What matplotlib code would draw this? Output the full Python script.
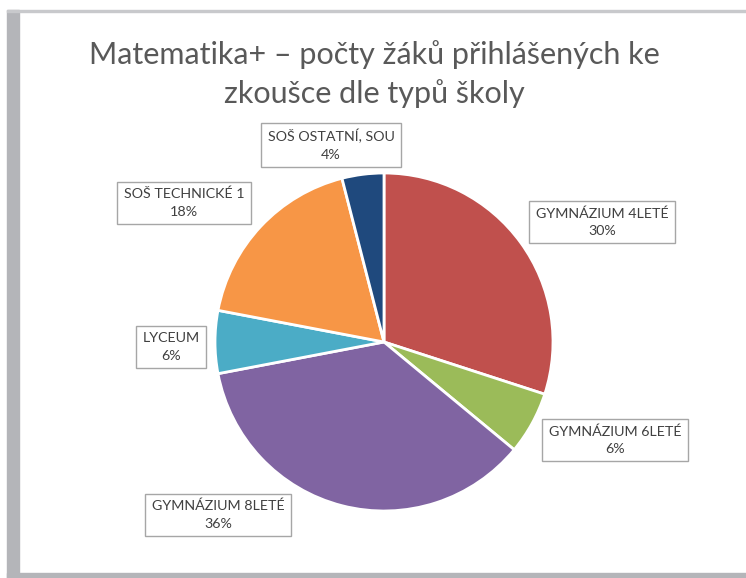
import matplotlib.pyplot as plt
from matplotlib.patches import Rectangle

categories = ["GYMNÁZIUM 4LETÉ", "GYMNÁZIUM 6LETÉ", "GYMNÁZIUM 8LETÉ",
              "LYCEUM", "SOŠ TECHNICKÉ 1", "SOŠ OSTATNÍ, SOU"]
shares = [30, 6, 36, 6, 18, 4]
colors = ["#C0504D", "#9BBB59", "#8064A2", "#4BACC6", "#F79646", "#1F497D"]

# label box centres in pixels (x, y from top)
label_pos = [(602, 222), (615, 440), (218, 515), (171, 347), (184, 203), (331, 145)]

W, H = 746, 578
plt.rcParams['font.family'] = ['Lato', 'DejaVu Sans']
fig = plt.figure(figsize=(W / 100, H / 100), dpi=100)

# grey frame around the chart area
fig.patches.append(Rectangle((7 / W, 0), 12 / W, (H - 10) / H,
                             transform=fig.transFigure, color="#B4B5B9", zorder=0))
fig.patches.append(Rectangle((7 / W, (H - 12) / H), (W - 7) / W, 2 / H,
                             transform=fig.transFigure, color="#C8C9CC", zorder=0))
fig.patches.append(Rectangle((7 / W, 0), (W - 7) / W, 5 / H,
                             transform=fig.transFigure, color="#B4B5B9", zorder=0))

cx, cy, r = 384, 342, 169
ax = fig.add_axes([(cx - r) / W, (H - cy - r) / H, 2 * r / W, 2 * r / H])
ax.pie(shares, colors=colors, startangle=90, counterclock=False,
       wedgeprops=dict(edgecolor="white", linewidth=2))
ax.set_xlim(-1, 1)
ax.set_ylim(-1, 1)
ax.set_aspect("equal")
ax.axis("off")

for cat, val, (px, py) in zip(categories, shares, label_pos):
    fig.text(px / W, 1 - py / H, f"{cat}\n{val}%", ha="center", va="center",
             fontsize=10.3, color="#404040", linespacing=1.55,
             bbox=dict(boxstyle="square,pad=0.45", facecolor="white",
                       edgecolor="#A6A6A6", linewidth=1))

fig.text(374 / W, 1 - 74 / H,
         "Matematika+ – počty žáků přihlášených ke\nzkoušce dle typů školy",
         ha="center", va="center", fontsize=22, color="#595959", linespacing=1.45)

fig.savefig("out.png", dpi=100)
